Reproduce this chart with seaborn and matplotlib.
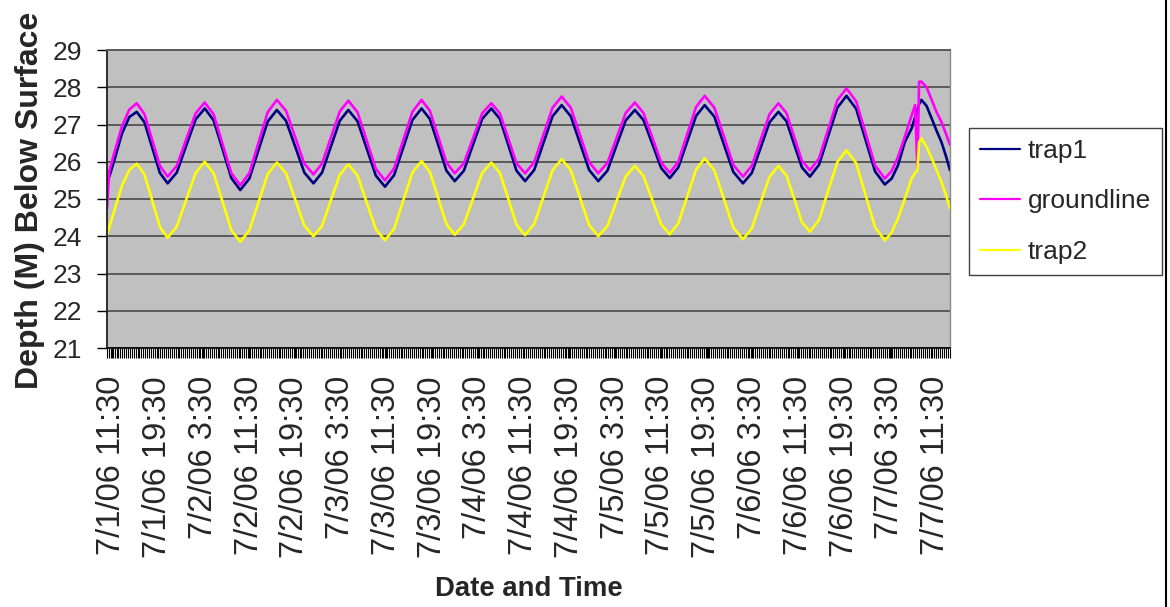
import pandas as pd
import seaborn as sns
import matplotlib.pyplot as plt
import matplotlib.dates as mdates
from matplotlib.lines import Line2D

# hours after the logger started
hours = [0.0, 0.4, 1.3, 2.6, 3.9, 5.2,
         6.55, 7.9, 9.25, 10.6,
         12.2, 13.85, 15.5, 17.1,
         18.65, 20.2, 21.75, 23.3,
         24.9, 26.5, 28.1, 29.7,
         31.3, 32.9, 34.5, 36.1,
         37.6, 39.15, 40.7, 42.2,
         43.8, 45.4, 47.0, 48.6,
         50.2, 51.8, 53.4, 55.0,
         56.45, 57.9, 59.35, 60.8,
         62.4, 64.0, 65.6, 67.2,
         68.7, 70.15, 71.6, 73.1,
         74.7, 76.3, 77.9, 79.5,
         81.1, 82.7, 84.3, 85.9,
         87.5, 89.1, 90.7, 92.3,
         93.8, 95.35, 96.9, 98.4,
         99.9, 101.45, 103.0, 104.5,
         106.2, 107.85, 109.5, 111.2,
         112.75, 114.3, 115.85, 117.4,
         118.8, 120.15, 121.5, 122.9,
         124.5, 126.1, 127.7, 129.3,
         131.0, 132.65, 134.3, 136.0,
         137.2, 138.3, 139.5, 140.7, 141.3, 141.7, 142.0, 142.4,
         143.3, 144.2, 145.0, 145.9, 146.7, 147.4]

trap1 = [25.45, 25.60, 26.05, 26.75, 27.20, 27.34,
         27.06, 26.38, 25.70, 25.42,
         25.71, 26.43, 27.14, 27.43,
         27.11, 26.34, 25.56, 25.24,
         25.55, 26.32, 27.08, 27.39,
         27.10, 26.41, 25.71, 25.42,
         25.71, 26.41, 27.10, 27.39,
         27.09, 26.36, 25.63, 25.33,
         25.64, 26.38, 27.12, 27.43,
         27.15, 26.46, 25.76, 25.48,
         25.76, 26.46, 27.15, 27.43,
         27.15, 26.46, 25.76, 25.48,
         25.78, 26.50, 27.22, 27.52,
         27.22, 26.50, 25.78, 25.48,
         25.76, 26.44, 27.11, 27.39,
         27.12, 26.48, 25.83, 25.56,
         25.85, 26.54, 27.23, 27.52,
         27.21, 26.47, 25.73, 25.42,
         25.70, 26.38, 27.06, 27.34,
         27.09, 26.47, 25.85, 25.60,
         25.92, 26.69, 27.45, 27.77,
         27.42, 26.58, 25.74, 25.39,
         25.55, 25.90, 26.53, 26.90, 27.20, 27.38, 27.55, 27.66,
         27.50, 27.16, 26.85, 26.53, 26.15, 25.77]

groundline = [24.74, 25.75, 26.25, 26.95, 27.40, 27.57,
              27.28, 26.59, 25.89, 25.60,
              25.89, 26.60, 27.30, 27.59,
              27.27, 26.48, 25.69, 25.37,
              25.70, 26.52, 27.33, 27.66,
              27.37, 26.66, 25.95, 25.66,
              25.95, 26.65, 27.35, 27.64,
              27.33, 26.57, 25.81, 25.50,
              25.82, 26.58, 27.34, 27.66,
              27.37, 26.68, 25.98, 25.69,
              25.96, 26.63, 27.30, 27.57,
              27.30, 26.63, 25.96, 25.69,
              25.99, 26.72, 27.45, 27.75,
              27.45, 26.72, 25.99, 25.69,
              25.97, 26.64, 27.31, 27.59,
              27.31, 26.65, 25.98, 25.70,
              26.00, 26.74, 27.47, 27.77,
              27.45, 26.69, 25.92, 25.60,
              25.89, 26.59, 27.28, 27.57,
              27.31, 26.67, 26.03, 25.77,
              26.09, 26.87, 27.65, 27.97,
              27.62, 26.76, 25.90, 25.55,
              25.75, 26.13, 26.67, 27.25, 27.52, 25.82, 28.15, 28.15,
              28.00, 27.66, 27.35, 27.07, 26.75, 26.45]

trap2 = [24.05, 24.25, 24.70, 25.35, 25.78, 25.95,
         25.66, 24.96, 24.25, 23.96,
         24.26, 24.98, 25.70, 26.00,
         25.69, 24.93, 24.16, 23.85,
         24.16, 24.92, 25.67, 25.98,
         25.69, 24.99, 24.29, 24.00,
         24.28, 24.97, 25.65, 25.93,
         25.63, 24.91, 24.19, 23.89,
         24.20, 24.96, 25.71, 26.02,
         25.73, 25.03, 24.33, 24.04,
         24.32, 25.01, 25.70, 25.98,
         25.70, 25.01, 24.31, 24.03,
         24.33, 25.05, 25.77, 26.07,
         25.77, 25.04, 24.30, 24.00,
         24.28, 24.95, 25.61, 25.89,
         25.62, 24.97, 24.32, 24.05,
         24.35, 25.07, 25.79, 26.09,
         25.77, 25.01, 24.24, 23.92,
         24.21, 24.91, 25.60, 25.89,
         25.63, 25.01, 24.38, 24.12,
         24.44, 25.22, 25.99, 26.31,
         25.96, 25.10, 24.24, 23.89,
         24.10, 24.48, 25.01, 25.55, 25.70, 25.77, 26.53, 26.63,
         26.40, 26.09, 25.80, 25.46, 25.10, 24.74]

tick_labels = ["7/1/06 11:30", "7/1/06 19:30", "7/2/06 3:30", "7/2/06 11:30",
               "7/2/06 19:30", "7/3/06 3:30", "7/3/06 11:30", "7/3/06 19:30",
               "7/4/06 3:30", "7/4/06 11:30", "7/4/06 19:30", "7/5/06 3:30",
               "7/5/06 11:30", "7/5/06 19:30", "7/6/06 3:30", "7/6/06 11:30",
               "7/6/06 19:30", "7/7/06 3:30", "7/7/06 11:30"]
y_ticks = [21, 22, 23, 24, 25, 26, 27, 28, 29]
series_names = ["trap1", "groundline", "trap2"]
colors = ["#000080", "#FF00FF", "#FFFF00"]

data_start = pd.Timestamp("2006-07-01 10:38")
first_label = pd.Timestamp("2006-07-01 11:30")

times = data_start + pd.to_timedelta(hours, unit="h")
df = pd.DataFrame({"time": times, "trap1": trap1,
                   "groundline": groundline, "trap2": trap2})
long_df = df.melt(id_vars="time", var_name="series", value_name="depth")

sns.set_theme(style="white", rc={"axes.facecolor": "#C0C0C0"})
plt.rcParams["font.family"] = ["Liberation Sans", "DejaVu Sans"]

fig = plt.figure(figsize=(11.7, 6.07), dpi=100)
W, H = 1170, 607
ax = fig.add_axes([107 / W, 1 - 348 / H, (950 - 107) / W, (348 - 50) / H])

sns.lineplot(data=long_df, x="time", y="depth", hue="series",
             hue_order=series_names, palette=dict(zip(series_names, colors)),
             linewidth=1.9, ax=ax)

ax.set_ylim(21, 29)
ax.set_yticks(y_ticks)
ax.set_xlim(mdates.date2num(times[0]), mdates.date2num(times[-1]))

major = pd.date_range(first_label, periods=len(tick_labels), freq="8h")
ax.set_xticks(mdates.date2num(major), labels=tick_labels, rotation=90)
minor = pd.date_range(times[0], times[-1], freq="20min")
ax.set_xticks(mdates.date2num(minor), minor=True)

ax.tick_params(axis="x", which="both", direction="out", length=7.2, width=0.8,
               color="black", bottom=True, pad=13, labelsize=23.5)
ax.tick_params(axis="y", direction="out", length=7, width=1, color="black",
               left=True, pad=11, labelsize=19)

ax.yaxis.grid(True, color="#5a5a5a", linewidth=1.4)
ax.set_axisbelow(True)

ax.spines["left"].set_color("#202020")
ax.spines["left"].set_linewidth(1.3)
ax.spines["bottom"].set_color("black")
ax.spines["bottom"].set_linewidth(1.2)
ax.spines["top"].set_color("#5a5a5a")
ax.spines["top"].set_linewidth(1.4)
ax.spines["right"].set_color("#8c8c8c")
ax.spines["right"].set_linewidth(1.0)

ax.set_ylabel("Depth (M) Below Surface", fontsize=23, fontweight="bold")
ax.yaxis.set_label_coords(-0.0735, 0.497)
ax.set_xlabel("Date and Time", fontsize=19.8, fontweight="bold")
ax.xaxis.set_label_coords(0.5, -0.765)

leg = ax.legend(loc="upper left", bbox_to_anchor=(969 / W, 1 - 128 / H),
                bbox_transform=fig.transFigure, borderaxespad=0,
                fontsize=19, frameon=True, fancybox=False, edgecolor="#404040",
                framealpha=1, facecolor="white", borderpad=0.42,
                handlelength=1.5, handletextpad=0.3, labelspacing=1.0)
leg.get_frame().set_linewidth(1.0)
for line in leg.get_lines():
    line.set_linewidth(1.6)

fig.add_artist(Line2D([1166 / W, 1166 / W], [0, 1], transform=fig.transFigure,
                      color="black", linewidth=1.5))

fig.savefig("out.png", dpi=100, facecolor="white")
